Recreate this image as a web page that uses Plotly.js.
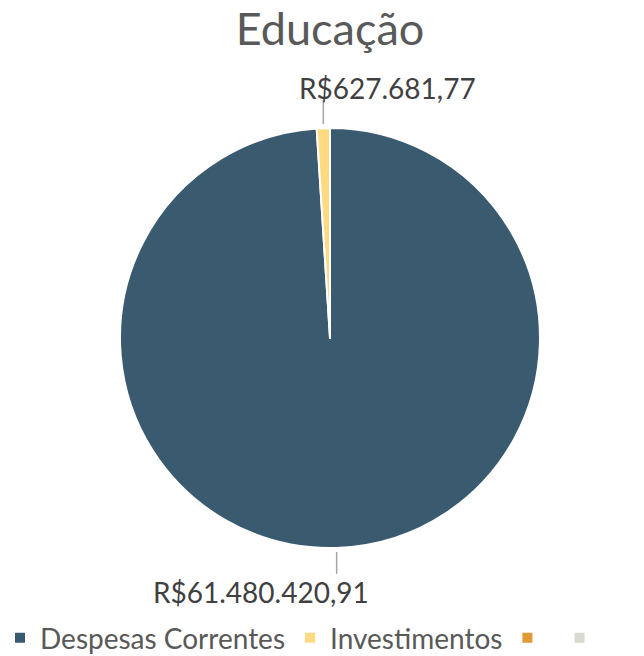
<!DOCTYPE html>
<html><head><meta charset="utf-8">
<script src="https://cdn.plot.ly/plotly-3.0.1.min.js"></script>
<style>html,body{margin:0;padding:0;background:#fff}</style>
</head><body><div id="chart" style="width:644px;height:656px"></div>
<script>
const categories = ["Despesas Correntes", "Investimentos", " ", "  "];
const values = [61480420.91, 627681.77, 0, 0];
const colors = ["#3A5A6F", "#FFDA80", "#E09A37", "#D9D9D2"];
const titleText = "Educação";

function fmtBRL(v) {
  const parts = v.toFixed(2).split(".");
  const intPart = parts[0].replace(/\B(?=(\d{3})+(?!\d))/g, ".");
  return "R$" + intPart + "," + parts[1];
}

const W = 644, H = 656;
const cx = 330, cy = 338, R = 210;
const FONT = "Lato, 'Open Sans', sans-serif";

const total = values.reduce((a, b) => a + b, 0);
const shapes = [], annotations = [];
let start = 0;
const labelOffsets = [{dx: -76, dy: 44, gap: 4, len: 22}, {dx: 64, dy: -40, gap: 4, len: 24}];
values.forEach((v, i) => {
  const frac = v / total;
  const mid = (start + frac / 2) * 2 * Math.PI;
  start += frac;
  if (v <= 0) return;
  const sx = Math.sin(mid), sy = -Math.cos(mid);
  const ex = cx + R * sx, ey = cy + R * sy;
  const o = labelOffsets[i];
  const dirY = sy > 0 ? 1 : -1;
  const y0 = ey + dirY * o.gap, y1 = ey + dirY * (o.gap + o.len);
  shapes.push({type: "line", xref: "paper", yref: "paper",
    x0: ex / W, x1: ex / W, y0: 1 - y0 / H, y1: 1 - y1 / H,
    line: {color: "#A6A6A6", width: 1.5}});
  annotations.push({xref: "paper", yref: "paper", x: (ex + o.dx) / W, y: 1 - (ey + o.dy) / H,
    text: fmtBRL(v), showarrow: false, xanchor: "center", yanchor: "middle",
    font: {family: FONT, size: 28, color: "#404040"}});
});

const data = [{
  type: "pie",
  labels: categories,
  values: values,
  sort: false,
  direction: "clockwise",
  rotation: 0,
  textinfo: "none",
  hoverinfo: "label+value",
  marker: {colors: colors, line: {color: "#FFFFFF", width: 2}},
  domain: {x: [(cx - R) / W, (cx + R) / W], y: [1 - (cy + R) / H, 1 - (cy - R) / H]}
}];

const layout = {
  width: W, height: H,
  margin: {l: 0, r: 0, t: 0, b: 0, autoexpand: false},
  paper_bgcolor: "#FFFFFF",
  title: {text: titleText, x: 330 / W, xanchor: "center", y: 1 - 29 / H, yanchor: "middle",
    font: {family: FONT, size: 45, color: "#595959"}},
  showlegend: true,
  legend: {orientation: "h", x: 0, xanchor: "left", y: 1 - 638 / H, yanchor: "middle",
    font: {family: FONT, size: 28, color: "#595959"}, bgcolor: "rgba(0,0,0,0)", traceorder: "normal"},
  shapes: shapes,
  annotations: annotations
};

Plotly.newPlot("chart", data, layout, {displayModeBar: false, staticPlot: true});
</script></body></html>
